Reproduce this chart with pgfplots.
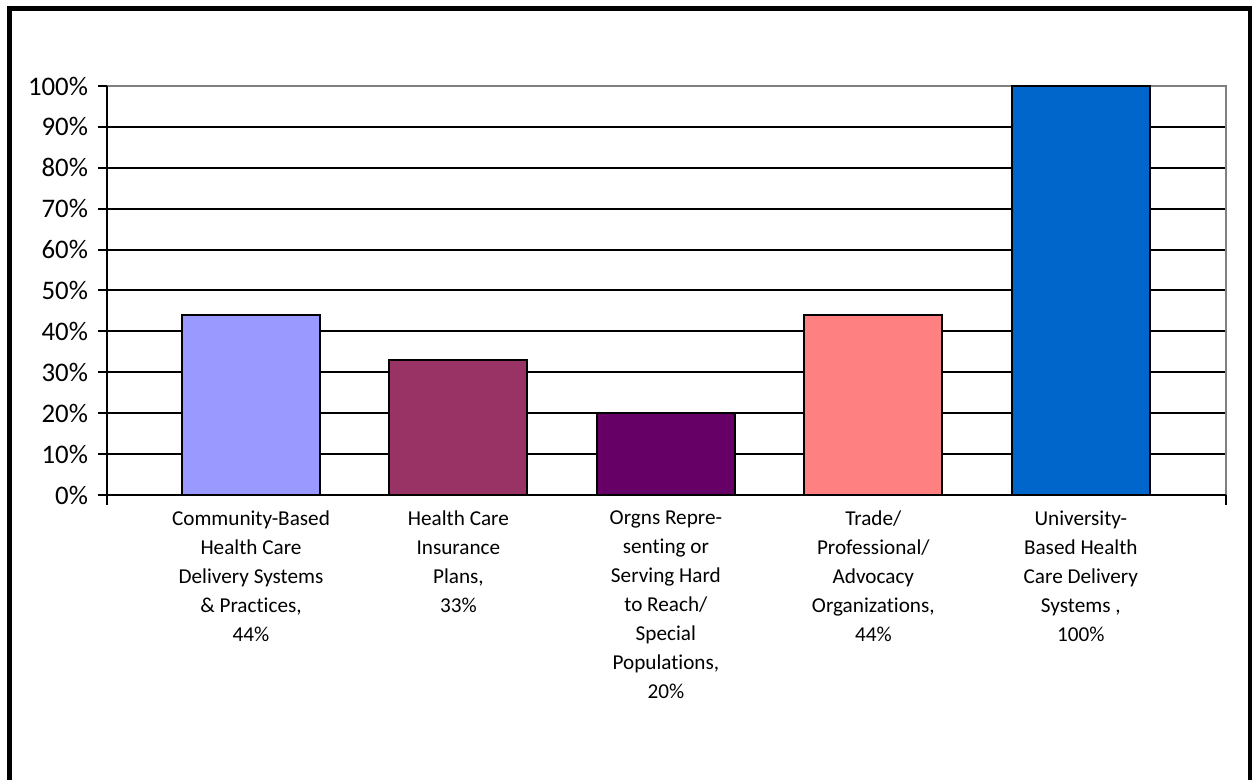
\documentclass[border=0pt]{standalone}
\usepackage{pgfplots}
\pgfplotsset{compat=1.18}
\usepackage{fontspec}
\setmainfont{Carlito}[Ligatures=NoCommon]

\definecolor{barA}{HTML}{9999FF}
\definecolor{barB}{HTML}{993366}
\definecolor{barC}{HTML}{660066}
\definecolor{barD}{HTML}{FF8080}
\definecolor{barE}{HTML}{0066CC}

\begin{document}
\begin{tikzpicture}
\useasboundingbox (0,0) rectangle (626pt,390pt);
\begin{scope}
\clip (0,0) rectangle (626pt,390pt);
\draw[line width=2.5pt] (4.75pt,-20pt) -- (4.75pt,385.75pt) -- (625pt,385.75pt) -- (625pt,-20pt);
\end{scope}
\begin{axis}[
    at={(53.5pt,142.5pt)}, anchor=south west,
    scale only axis,
    width=559.5pt, height=204.5pt,
    xmin=-0.694, xmax=4.70,
    ymin=0, ymax=100,
    bar width=69pt,
    xtick={0,1,2,3,4},
    xticklabels={
      {Community-Based\\Health Care\\Delivery Systems\\\& Practices,\\44\%},
      {Health Care\\Insurance\\Plans,\\33\%},
      {Orgns Repre-\\senting or\\Serving Hard\\to Reach/\\Special\\Populations,\\20\%},
      {Trade/\\Professional/\\Advocacy\\Organizations,\\44\%},
      {University-\\Based Health\\Care Delivery\\Systems ,\\100\%}},
    xticklabel style={align=center, anchor=north, yshift=-4.5pt,
        font={\fontsize{10.6}{14.5}\selectfont}},
    x tick style={draw=none},
    ytick={0,10,...,100},
    yticklabels={0\%,10\%,20\%,30\%,40\%,50\%,60\%,70\%,80\%,90\%,100\%},
    yticklabel style={font={\fontsize{13.4}{15}\selectfont}, xshift=-1.5pt},
    ytick pos=left,
    ytick align=outside,
    major tick length=4.5pt,
    y tick style={black, line width=1pt},
    minor ytick={10,20,...,90},
    minor tick length=0pt,
    yminorgrids,
    minor grid style={black, line width=1pt},
    axis line style={draw=none},
    clip=false,
]
\draw[gray, line width=1pt] (rel axis cs:0,1) -- (rel axis cs:1,1) -- (rel axis cs:1,0);
\addplot[ybar, fill=barA, draw=black, line width=1pt] coordinates {(0,44)};
\addplot[ybar, fill=barB, draw=black, line width=1pt] coordinates {(1,33)};
\addplot[ybar, fill=barC, draw=black, line width=1pt] coordinates {(2,20)};
\addplot[ybar, fill=barD, draw=black, line width=1pt] coordinates {(3,44)};
\addplot[ybar, fill=barE, draw=black, line width=1pt] coordinates {(4,100)};
\draw[black, line width=1pt] (rel axis cs:0,1) -- (rel axis cs:0,0) -- (rel axis cs:1,0);
\draw[black, line width=1pt] (rel axis cs:0,0) -- ([yshift=-5pt]rel axis cs:0,0);
\draw[black, line width=1pt] (rel axis cs:1,0) -- ([yshift=-5pt]rel axis cs:1,0);
\end{axis}
\end{tikzpicture}
\end{document}
